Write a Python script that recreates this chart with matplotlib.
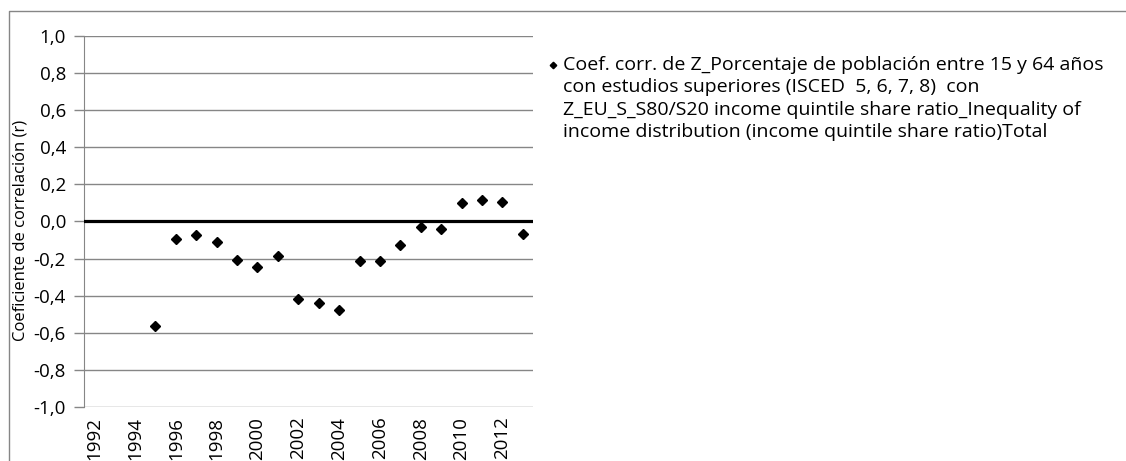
import matplotlib
matplotlib.use('Agg')
import matplotlib.pyplot as plt
from matplotlib.lines import Line2D
from matplotlib.ticker import FuncFormatter

# correlation coefficient per year
years = [1995, 1996, 1997, 1998, 1999, 2000, 2001, 2002, 2003, 2004,
         2005, 2006, 2007, 2008, 2009, 2010, 2011, 2012, 2013]
corr = [-0.565, -0.092, -0.075, -0.111, -0.210, -0.247, -0.184, -0.419, -0.438, -0.475,
        -0.213, -0.213, -0.128, -0.027, -0.038, 0.098, 0.117, 0.107, -0.065]

year_ticks = list(range(1992, 2013, 2))
y_ticks = [-1.0, -0.8, -0.6, -0.4, -0.2, 0.0, 0.2, 0.4, 0.6, 0.8, 1.0]

ylabel = 'Coeficiente de correlación (r)'
legend_lines = ['Coef. corr. de Z_Porcentaje de población entre 15 y 64 años',
                'con estudios superiores (ISCED  5, 6, 7, 8)  con',
                'Z_EU_S_S80/S20 income quintile share ratio_Inequality of',
                'income distribution (income quintile share ratio)Total']

plt.rcParams['font.family'] = ['Open Sans', 'DejaVu Sans']
grey = '#868686'
W, H = 1126, 461

fig = plt.figure(figsize=(W / 100, H / 100), dpi=100)
ax = fig.add_axes([84 / W, 1 - 407 / H, 449 / W, 371 / H])

ax.plot(years, corr, linestyle='none', marker='D', markersize=4.6, color='black')
ax.axhline(0, color='black', lw=2.3, zorder=3)

ax.set_xlim(1991.5, 2013.5)
ax.set_ylim(-1.0, 1.0)
ax.set_yticks(y_ticks)
ax.yaxis.set_major_formatter(FuncFormatter(lambda v, p: ('%.1f' % v).replace('.', ',')))
ax.set_xticks(year_ticks)
ax.set_xticklabels([str(y) for y in year_ticks], rotation=90)
ax.tick_params(axis='x', length=0, pad=7, labelsize=13.5)
ax.tick_params(axis='y', length=7, width=1, color=grey, pad=6, labelsize=13.5)
ax.grid(axis='y', color=grey, lw=1)
ax.set_axisbelow(True)
for s in ['top', 'right', 'bottom']:
    ax.spines[s].set_visible(False)
ax.spines['left'].set_color(grey)
ax.set_ylabel(ylabel, fontsize=12)
ax.yaxis.set_label_coords(29 / W, 0.5, transform=fig.transFigure)

# legend, drawn by hand so the marker sits on the first line
fig.add_artist(Line2D([553 / W], [1 - 65 / H], marker='D', markersize=3.3,
                      color='black', linestyle='none', transform=fig.transFigure))
for i, line in enumerate(legend_lines):
    fig.text(563 / W, 1 - (65 + 22.3 * i) / H, line, fontsize=14, va='center', ha='left')

# outer chart border (only top and left edges are visible)
fig.add_artist(Line2D([9 / W, 9 / W, 1], [0, 1 - 11 / H, 1 - 11 / H],
                      color=grey, lw=1, transform=fig.transFigure))

fig.savefig('out.png', dpi=100)
